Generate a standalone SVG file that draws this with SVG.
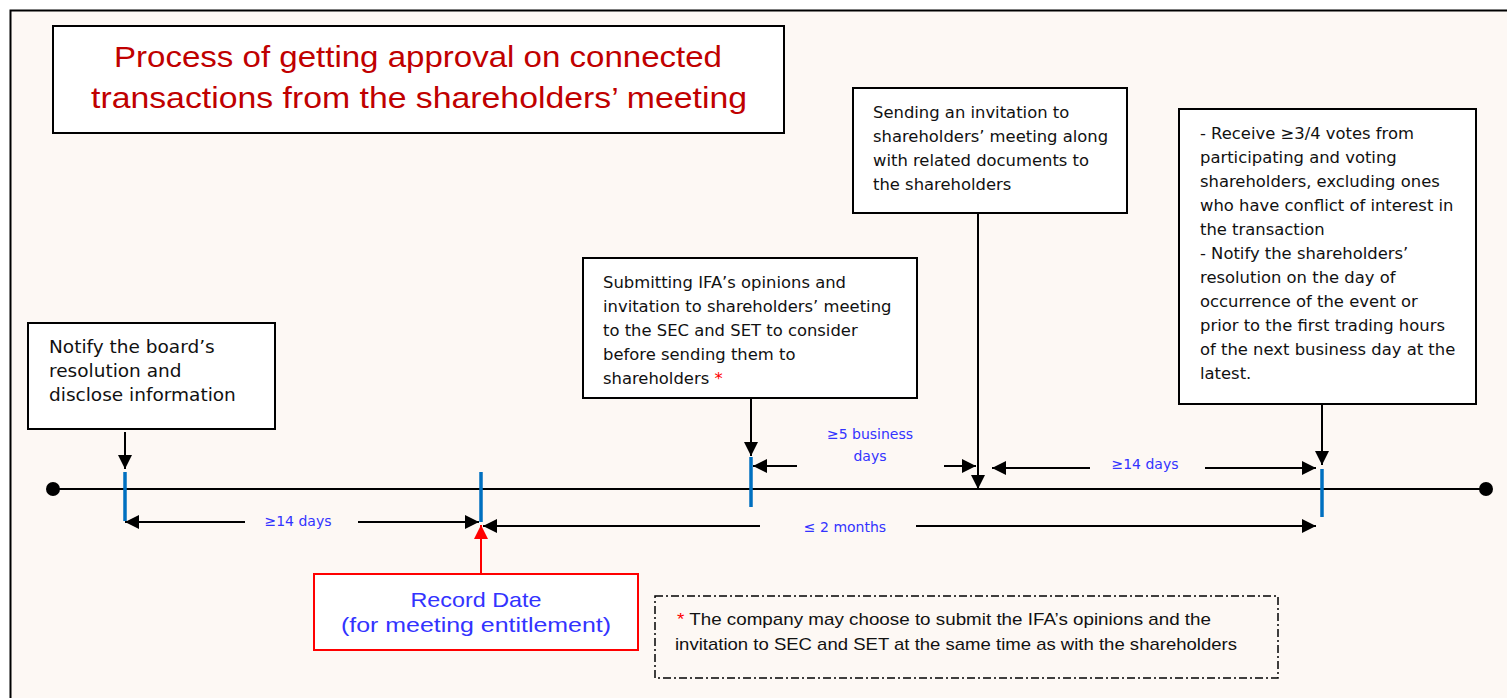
<svg xmlns="http://www.w3.org/2000/svg" width="1507" height="698" viewBox="0 0 1507 698">
<style>
.box{fill:#fff;stroke:#000;stroke-width:2}
.t{font-family:"DejaVu Sans",Verdana,sans-serif;font-size:16.4px;fill:#111}
.t19{font-family:"DejaVu Sans",Verdana,sans-serif;font-size:18.5px;fill:#111}
.lbl{font-family:"DejaVu Sans",Verdana,sans-serif;font-size:14px;fill:#3333ff;text-anchor:middle}
.ln{stroke:#000;stroke-width:2;fill:none}
.tick{stroke:#0070c0;stroke-width:3.5}
</style>
<defs>
<marker id="ah" viewBox="0 0 14 14" refX="14" refY="7" markerWidth="14" markerHeight="14" markerUnits="userSpaceOnUse" orient="auto"><path d="M0,0 L14,7 L0,14 z" fill="#000"/></marker>
<marker id="ahr" viewBox="0 0 14 14" refX="14" refY="7" markerWidth="14" markerHeight="14" markerUnits="userSpaceOnUse" orient="auto"><path d="M0,0 L14,7 L0,14 z" fill="#ff0000"/></marker>
</defs>
<rect x="0" y="0" width="1507" height="698" fill="#fff"/>
<rect x="10.5" y="10.5" width="1600" height="800" fill="#fdf8f4" stroke="#000" stroke-width="2"/>

<g id="title">
<rect x="53" y="26" width="731" height="107" class="box"/>
<text x="418" y="67" text-anchor="middle" font-family="Liberation Sans, Arial, sans-serif" font-size="29" fill="#c00000" textLength="608" lengthAdjust="spacingAndGlyphs">Process of getting approval on connected</text>
<text x="419" y="108" text-anchor="middle" font-family="Liberation Sans, Arial, sans-serif" font-size="29" fill="#c00000" textLength="656" lengthAdjust="spacingAndGlyphs">transactions from the shareholders’ meeting</text>
</g>

<g id="timeline">
<line x1="53" y1="489" x2="1486" y2="489" class="ln"/>
<circle cx="53" cy="489" r="7" fill="#000"/>
<circle cx="1486" cy="489" r="7" fill="#000"/>
<line x1="125" y1="472" x2="125" y2="521" class="tick"/>
<line x1="481" y1="472" x2="481" y2="522" class="tick"/>
<line x1="751" y1="457" x2="751" y2="507" class="tick"/>
<line x1="1322" y1="469" x2="1322" y2="517" class="tick"/>
</g>

<g id="n1">
<rect x="28" y="323" width="247" height="106" class="box"/>
<text class="t19" x="49" y="353">Notify the board’s</text>
<text class="t19" x="49" y="377">resolution and</text>
<text class="t19" x="49" y="401">disclose information</text>
</g>

<g id="n2">
<rect x="583" y="258" width="334" height="140" class="box"/>
<text class="t" x="603" y="288">Submitting IFA’s opinions and</text>
<text class="t" x="603" y="312">invitation to shareholders’ meeting</text>
<text class="t" x="603" y="336">to the SEC and SET to consider</text>
<text class="t" x="603" y="360">before sending them to</text>
<text class="t" x="603" y="384">shareholders <tspan fill="#ff0000">*</tspan></text>
</g>

<g id="n3">
<rect x="853" y="88" width="274" height="125" class="box"/>
<text class="t" x="873" y="118">Sending an invitation to</text>
<text class="t" x="873" y="142">shareholders’ meeting along</text>
<text class="t" x="873" y="166">with related documents to</text>
<text class="t" x="873" y="190">the shareholders</text>
</g>

<g id="n4">
<rect x="1179" y="109" width="297" height="295" class="box"/>
<text class="t" x="1200" y="139">- Receive ≥3/4 votes from</text>
<text class="t" x="1200" y="163">participating and voting</text>
<text class="t" x="1200" y="187">shareholders, excluding ones</text>
<text class="t" x="1200" y="211">who have conflict of interest in</text>
<text class="t" x="1200" y="235">the transaction</text>
<text class="t" x="1200" y="259">- Notify the shareholders’</text>
<text class="t" x="1200" y="283">resolution on the day of</text>
<text class="t" x="1200" y="307">occurrence of the event or</text>
<text class="t" x="1200" y="331">prior to the first trading hours</text>
<text class="t" x="1200" y="355">of the next business day at the</text>
<text class="t" x="1200" y="379">latest.</text>
</g>

<g id="record">
<rect x="314" y="574" width="324" height="76" fill="#fff" stroke="#ff0000" stroke-width="2"/>
<text x="476" y="607" text-anchor="middle" font-family="Liberation Sans, Arial, sans-serif" font-size="21" fill="#3333ff" textLength="131" lengthAdjust="spacingAndGlyphs">Record Date</text>
<text x="476" y="632" text-anchor="middle" font-family="Liberation Sans, Arial, sans-serif" font-size="21" fill="#3333ff" textLength="270" lengthAdjust="spacingAndGlyphs">(for meeting entitlement)</text>
</g>

<g id="note">
<rect x="655" y="596" width="623" height="82" fill="none" stroke="#000" stroke-width="1.5" stroke-dasharray="8,3,2,3"/>
<text x="677" y="625" font-family="Liberation Sans, Arial, sans-serif" font-size="17" fill="#111" textLength="534" lengthAdjust="spacingAndGlyphs"><tspan fill="#ff0000">*</tspan> The company may choose to submit the IFA’s opinions and the</text>
<text x="675" y="650" font-family="Liberation Sans, Arial, sans-serif" font-size="17" fill="#111" textLength="562" lengthAdjust="spacingAndGlyphs">invitation to SEC and SET at the same time as with the shareholders</text>
</g>

<g id="connectors">
<line x1="125" y1="432" x2="125" y2="469" class="ln" marker-end="url(#ah)"/>
<line x1="751" y1="398" x2="751" y2="456" class="ln" marker-end="url(#ah)"/>
<line x1="978" y1="213" x2="978" y2="489" class="ln" marker-end="url(#ah)"/>
<line x1="1322" y1="404" x2="1322" y2="465" class="ln" marker-end="url(#ah)"/>
<line x1="481" y1="574" x2="481" y2="525" stroke="#ff0000" stroke-width="2" marker-end="url(#ahr)"/>

<line x1="245" y1="522" x2="125" y2="522" class="ln" marker-end="url(#ah)"/>
<line x1="358" y1="522" x2="479" y2="522" class="ln" marker-end="url(#ah)"/>
<text class="lbl" x="298" y="526">≥14 days</text>

<line x1="760" y1="526" x2="483" y2="526" class="ln" marker-end="url(#ah)"/>
<line x1="916" y1="526" x2="1316" y2="526" class="ln" marker-end="url(#ah)"/>
<text class="lbl" x="845" y="532">≤ 2 months</text>

<line x1="797" y1="466" x2="753" y2="466" class="ln" marker-end="url(#ah)"/>
<line x1="944" y1="466" x2="976" y2="466" class="ln" marker-end="url(#ah)"/>
<text class="lbl" x="870" y="439">≥5 business</text>
<text class="lbl" x="870" y="461">days</text>

<line x1="1090" y1="468" x2="992" y2="468" class="ln" marker-end="url(#ah)"/>
<line x1="1205" y1="468" x2="1316" y2="468" class="ln" marker-end="url(#ah)"/>
<text class="lbl" x="1145" y="469">≥14 days</text>
</g>
</svg>
